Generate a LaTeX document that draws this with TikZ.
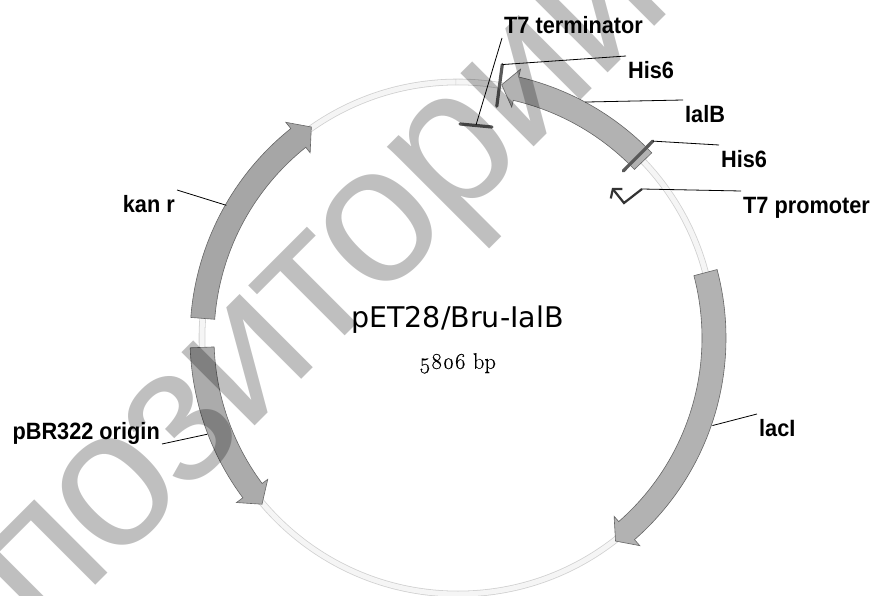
\documentclass[tikz,border=0pt]{standalone}
\usepackage{fontspec}
\usepackage{tikz}
\usetikzlibrary{arrows.meta}
\newfontfamily\labelfont[FakeStretch=0.92]{Liberation Sans}
\newfontfamily\waterfont[LetterSpace=-2.6]{Liberation Sans}
\newfontfamily\titlefont{DejaVu Sans}
\newfontfamily\sizefont[Numbers=OldStyle,FakeBold=0.4]{Latin Modern Roman}

\newcommand{\genearrow}[4]{
  \filldraw[gene part,fill=#1] (#2:244) arc[start angle=#2,end angle=#3,radius=244]
    -- (#3:237) -- (#4:257) -- (#3:276) -- (#3:268)
    arc[start angle=#3,end angle=#2,radius=268] -- cycle;
}

\begin{document}
\begin{tikzpicture}[x=1pt,y=1pt,
                    gene part/.style={draw=black!60,line width=0.6pt},
                    main label/.style={font=\labelfont\bfseries\fontsize{23.6}{25}\selectfont,inner sep=2pt,
                                       text height=20pt,text depth=2pt},
                    leader/.style={draw=black,line width=0.8pt},
                    site mark/.style={draw=black!65,line width=3.2pt,line cap=round},
                    water mark/.style={font=\waterfont\fontsize{196}{196}\selectfont,opacity=0.25,
                                       inner sep=0pt,anchor=base west,rotate=45}]
  \useasboundingbox (0,0) rectangle (873,-596);
  \clip (0,0) rectangle (873,-596);

  \begin{scope}[shift={(458,-338)}]
    \draw[black!18,line width=6.6pt] (0,0) circle[radius=256];
    \draw[black!4,line width=5pt] (0,0) circle[radius=256];
    \draw[black!18,line width=0.5pt] (90.5:253) -- (90.5:259);

    \genearrow{black!30}{14.8}{-48.8}{-52.2}
    \genearrow{black!35}{175.6}{128.6}{124.8}
    \genearrow{black!33}{182.1}{216.6}{220.3}
    \genearrow{black!30}{43.7}{76.9}{80.2}

    \coordinate (his right out) at (45.3:277);
    \coordinate (his right in) at (45.3:235);
    \coordinate (his left out) at (80.8:277);
    \coordinate (his left in) at (80.5:235);
    \coordinate (kan point) at (150.2:267);
    \coordinate (ori point) at (201:268.5);
    \coordinate (lac point) at (-19:269);
    \coordinate (ial point) at (61.7:268);
  \end{scope}

  \coordinate (term left) at (460,-124);
  \coordinate (term right) at (492,-127);
  \coordinate (term mid) at (476,-125);
  \coordinate (prom end) at (642,-189);

  \draw[site mark] (his right out) -- (his right in);
  \draw[site mark] (his left out) -- (his left in);
  \draw[site mark] (term left) -- (term right);
  \draw[black!80,line width=2.2pt,-{Straight Barb[length=6pt,width=15pt]}] (prom end) -- (624,-203) -- (612,-188);

  \node[main label,anchor=south west] (terminator) at (502,-38) {T7 terminator};
  \node[main label,anchor=north west] (his top) at (626,-56) {His6};
  \node[main label,anchor=north west] (ialb) at (683,-100) {IalB};
  \node[main label,anchor=north west] (his right) at (719,-145) {His6};
  \node[main label,anchor=north west] (promoter) at (741,-191) {T7 promoter};
  \node[main label,anchor=north west] (laci) at (757,-414) {lacI};
  \node[main label,anchor=north east] (kan) at (177,-190) {kan r};
  \node[main label,anchor=south east] (ori) at (162,-444) {pBR322 origin};

  \node[font=\titlefont\fontsize{28.5}{30}\selectfont,inner sep=0pt] (plasmid) at (457.5,-320) {pET28/Bru-IalB};
  \node[font=\sizefont\fontsize{22.5}{24}\selectfont,inner sep=0pt,below=19pt] (size) at (plasmid.south) {5806 bp};

  \path[leader]
    (terminator.south west) edge (term mid)
    (his top.north west) edge (his left out)
    (ialb.north west) edge (ial point)
    (his right.north west) edge (his right out)
    (promoter.north west) edge (prom end)
    (laci.north west) edge (lac point)
    (kan.north east) edge (kan point)
    (ori.south east) edge (ori point);

  \node[water mark] (water) at (42,-639) {позиторий};
\end{tikzpicture}
\end{document}
